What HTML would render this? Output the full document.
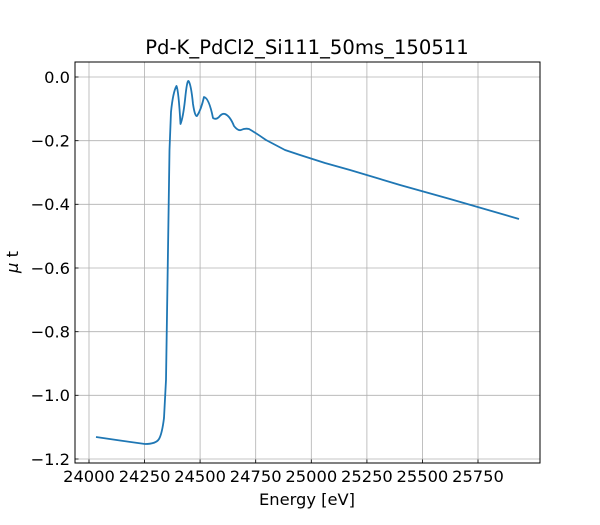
<!DOCTYPE html>
<html><head><style>
body{margin:0;background:#fff;}
svg text{font-family:"DejaVu Sans","Liberation Sans",sans-serif;fill:#000;}
</style></head><body>
<svg width="600" height="520" xmlns="http://www.w3.org/2000/svg">
<rect width="600" height="520" fill="#fff"/>
<g stroke="#b0b0b0" stroke-width="0.8">
<line x1="89" y1="62" x2="89" y2="463"/><line x1="144.6" y1="62" x2="144.6" y2="463"/>
<line x1="200.1" y1="62" x2="200.1" y2="463"/><line x1="255.7" y1="62" x2="255.7" y2="463"/>
<line x1="311.3" y1="62" x2="311.3" y2="463"/><line x1="366.9" y1="62" x2="366.9" y2="463"/>
<line x1="422.4" y1="62" x2="422.4" y2="463"/><line x1="478" y1="62" x2="478" y2="463"/>
<line x1="75" y1="77" x2="540" y2="77"/><line x1="75" y1="140.7" x2="540" y2="140.7"/>
<line x1="75" y1="204.3" x2="540" y2="204.3"/><line x1="75" y1="268" x2="540" y2="268"/>
<line x1="75" y1="331.7" x2="540" y2="331.7"/><line x1="75" y1="395.3" x2="540" y2="395.3"/>
<line x1="75" y1="459" x2="540" y2="459"/>
</g>
<path fill="none" stroke="#1f77b4" stroke-width="1.8" stroke-linejoin="round" d="M96,437 L120,440.5 L145,444 Q156,444 159,439 Q162,434 164,418 L166,380 L168,250 L169.5,150 L171,112 Q173,92 176.5,86 Q178.5,90 180.5,124 Q183,118 185,100 Q187,80 188.5,81 Q191,84 193,104 Q195,117 197,116 Q201,110 204,97 Q209,98 213,118 Q216,120 219,117 Q222,113 225,114 Q230,116 234,126 Q238,131 241,130 Q245,128 249,129 Q256,133 266,140 L285,150 L300,155 L325,163 L350,170 L400,185 L450,199 L519,219"/>
<rect x="75" y="62" width="465" height="401" fill="none" stroke="#000" stroke-width="1"/>
<g stroke="#000" stroke-width="0.8">
<line x1="89" y1="463" x2="89" y2="459.5"/><line x1="144.6" y1="463" x2="144.6" y2="459.5"/>
<line x1="200.1" y1="463" x2="200.1" y2="459.5"/><line x1="255.7" y1="463" x2="255.7" y2="459.5"/>
<line x1="311.3" y1="463" x2="311.3" y2="459.5"/><line x1="366.9" y1="463" x2="366.9" y2="459.5"/>
<line x1="422.4" y1="463" x2="422.4" y2="459.5"/><line x1="478" y1="463" x2="478" y2="459.5"/>
<line x1="75" y1="77" x2="78.5" y2="77"/><line x1="75" y1="140.7" x2="78.5" y2="140.7"/>
<line x1="75" y1="204.3" x2="78.5" y2="204.3"/><line x1="75" y1="268" x2="78.5" y2="268"/>
<line x1="75" y1="331.7" x2="78.5" y2="331.7"/><line x1="75" y1="395.3" x2="78.5" y2="395.3"/>
<line x1="75" y1="459" x2="78.5" y2="459"/>
</g>
<g font-size="16.3" text-anchor="middle">
<text x="89" y="482">24000</text><text x="144.6" y="482">24250</text><text x="200.1" y="482">24500</text>
<text x="255.7" y="482">24750</text><text x="311.3" y="482">25000</text><text x="366.9" y="482">25250</text>
<text x="422.4" y="482">25500</text><text x="478" y="482">25750</text>
</g>
<g font-size="16.3" text-anchor="end">
<text x="70" y="83">0.0</text><text x="70" y="146.5">−0.2</text><text x="70" y="210">−0.4</text>
<text x="70" y="274">−0.6</text><text x="70" y="337.5">−0.8</text><text x="70" y="401">−1.0</text>
<text x="70" y="465">−1.2</text>
</g>
<text x="307" y="505" font-size="16.3" text-anchor="middle">Energy [eV]</text>
<text x="18" y="262" font-size="16.3" text-anchor="middle" transform="rotate(-90 18 262)"><tspan font-style="italic">μ</tspan> t</text>
<text x="307" y="54" font-size="19.6" text-anchor="middle">Pd-K_PdCl2_Si111_50ms_150511</text>
</svg>
</body></html>
